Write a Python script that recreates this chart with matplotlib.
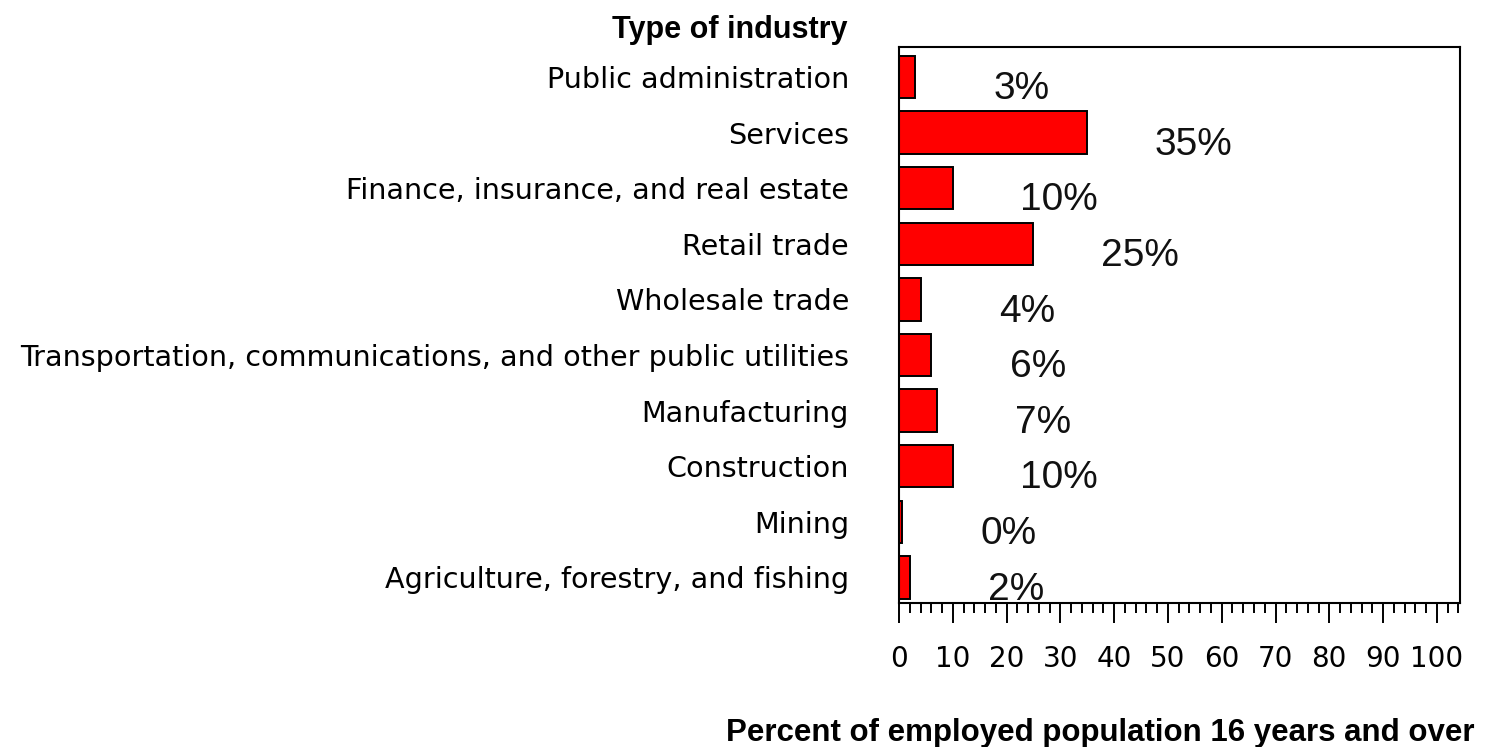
import matplotlib
matplotlib.use("Agg")
import matplotlib.pyplot as plt
from matplotlib.ticker import MultipleLocator

industries = ["Public administration",
              "Services",
              "Finance, insurance, and real estate",
              "Retail trade",
              "Wholesale trade",
              "Transportation, communications, and other public utilities",
              "Manufacturing",
              "Construction",
              "Mining",
              "Agriculture, forestry, and fishing"]
percent = [3, 35, 10, 25, 4, 6, 7, 10, 0.5, 2]
pct_labels = ["3%", "35%", "10%", "25%", "4%", "6%", "7%", "10%", "0%", "2%"]
x_ticks = [0, 10, 20, 30, 40, 50, 60, 70, 80, 90, 100]

plt.rcParams['font.family'] = ['Liberation Sans', 'DejaVu Sans']

fig = plt.figure(figsize=(14.85, 7.47), dpi=100)
ax = fig.add_axes([899 / 1485, 1 - 603 / 747, 561 / 1485, 556 / 747])

ypos = list(range(len(industries)))
ax.barh(ypos, percent, height=0.76, color="#ff0000", edgecolor="black", linewidth=1.4)

for y, v, lab in zip(ypos, percent, pct_labels):
    ax.text(v + 19.8, y + 0.22, lab, ha="center", va="center", fontsize=28, color="#111111")

ax.set_xlim(0, 104.3)
ax.set_ylim(9.46, -0.54)

ax.set_yticks(ypos)
ax.set_yticklabels(industries, fontsize=20.6, family="DejaVu Sans")
ax.tick_params(axis="y", length=0, pad=36)

ax.set_xticks(x_ticks)
ax.set_xticklabels([str(t) for t in x_ticks], family="DejaVu Sans")
ax.xaxis.set_minor_locator(MultipleLocator(2))
ax.tick_params(axis="x", which="major", direction="out", length=14.5, width=1.4,
               labelsize=20, pad=16)
ax.tick_params(axis="x", which="minor", direction="out", length=7.5, width=1.4)

for s in ax.spines.values():
    s.set_linewidth(1.5)

fig.text(848 / 1485, 1 - 30 / 747, "Type of industry", ha="right", va="center",
         fontsize=22, fontweight="bold")
fig.text(1475 / 1485, 1 - 733 / 747, "Percent of employed population 16 years and over",
         ha="right", va="center", fontsize=22.5, fontweight="bold")

fig.savefig("out.png", dpi=100)
